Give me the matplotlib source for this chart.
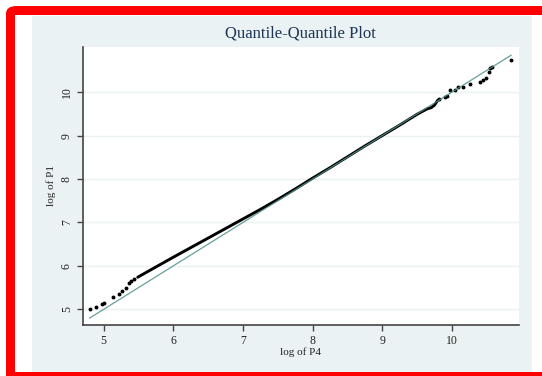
import matplotlib
matplotlib.use("Agg")
import matplotlib.pyplot as plt
from matplotlib.patches import Rectangle, FancyBboxPatch

# ---- data ----
# sparse lower tail of the quantile pairs (log of P4, log of P1)
low_x = [4.80, 4.89, 4.97, 5.00, 5.14, 5.22, 5.27, 5.32, 5.36, 5.40, 5.44]
low_y = [5.00, 5.06, 5.13, 5.14, 5.28, 5.35, 5.42, 5.50, 5.60, 5.66, 5.71]
# dense body of quantile pairs
mid_x = [5.49, 5.60, 5.80, 6.00, 6.25, 6.50, 6.75, 7.00, 7.25, 7.50, 7.75,
         8.00, 8.25, 8.50, 8.75, 9.00, 9.25, 9.50, 9.65, 9.70, 9.75, 9.80]
mid_y = [5.74, 5.84, 6.02, 6.20, 6.42, 6.64, 6.86, 7.08, 7.30, 7.53, 7.77,
         8.02, 8.26, 8.51, 8.76, 9.00, 9.24, 9.49, 9.62, 9.64, 9.70, 9.82]
# sparse upper tail
high_x = [9.81, 9.90, 9.93, 9.98, 10.05, 10.09, 10.16, 10.26, 10.41, 10.45,
          10.49, 10.53, 10.55, 10.57, 10.85]
high_y = [9.84, 9.88, 9.91, 10.04, 10.05, 10.11, 10.12, 10.19, 10.24, 10.28,
          10.32, 10.47, 10.55, 10.58, 10.74]
# 45-degree reference line end points
ref_line = [4.80, 10.85]

x_ticks = [5, 6, 7, 8, 9, 10]
y_ticks = [5, 6, 7, 8, 9, 10]
title = "Quantile-Quantile Plot"
xlabel = "log of P4"
ylabel = "log of P1"

# ---- figure ----
W, H = 542, 376
plt.rcParams["font.family"] = ["Liberation Serif", "DejaVu Serif"]
fig = plt.figure(figsize=(W / 100, H / 100), dpi=100, facecolor="white")


def fx(px):
    return px / W


def fy(py):
    return 1 - py / H


# red frame
fig.patches.append(FancyBboxPatch((fx(6), fy(400)), fx(600) - fx(6), fy(6) - fy(400),
                                  boxstyle="round,pad=0,rounding_size=0.02",
                                  transform=fig.transFigure, facecolor="#ff0000",
                                  edgecolor="none", zorder=-3))
fig.patches.append(Rectangle((fx(15), fy(372)), fx(542) - fx(15), fy(15) - fy(372),
                             transform=fig.transFigure, facecolor="white",
                             edgecolor="none", zorder=-2))
# graph region (light blue)
fig.patches.append(Rectangle((fx(32), fy(372)), fx(532) - fx(32), fy(16) - fy(372),
                             transform=fig.transFigure, facecolor="#eaf2f3",
                             edgecolor="none", zorder=-1))

ax = fig.add_axes([fx(82.7), fy(325), fx(518.7) - fx(82.7), fy(47) - fy(325)])
ax.set_zorder(2)
ax.set_facecolor("white")
ax.set_xlim(4.70, 10.96)
ax.set_ylim(4.64, 11.04)

for yt in y_ticks:
    ax.axhline(yt, color="#eaf2f3", lw=1.0, zorder=1)

ax.plot(mid_x, mid_y, color="black", lw=2.1, zorder=3, solid_capstyle="round")
ax.plot(low_x + high_x, low_y + high_y, linestyle="none", marker="o",
        markersize=1.8, color="black", zorder=3)
ax.plot(ref_line, ref_line, color="#4d8f8a", lw=0.9, alpha=0.85, zorder=4)

for s in ["top", "right"]:
    ax.spines[s].set_visible(False)
for s in ["left", "bottom"]:
    ax.spines[s].set_color("#444444")
    ax.spines[s].set_linewidth(1.2)

ax.set_xticks(x_ticks)
ax.set_yticks(y_ticks)
ax.tick_params(axis="both", direction="out", length=4, width=1.0, color="#444444",
               labelsize=8.5, labelcolor="#222222", pad=3)
for lab in ax.get_yticklabels():
    lab.set_rotation(90)
    lab.set_va("center")

ax.set_xlabel(xlabel, fontsize=8, color="#222222")
ax.xaxis.set_label_coords(0.5, -0.082)
ax.xaxis.label.set_va("top")
ax.set_ylabel(ylabel, fontsize=8, color="#222222")
ax.yaxis.set_label_coords(-0.062, 0.5)

fig.text(fx(300.7), fy(34), title, ha="center", va="center", fontsize=12,
         color="#1f3556")

fig.savefig("out.png", dpi=100, facecolor=fig.get_facecolor())
